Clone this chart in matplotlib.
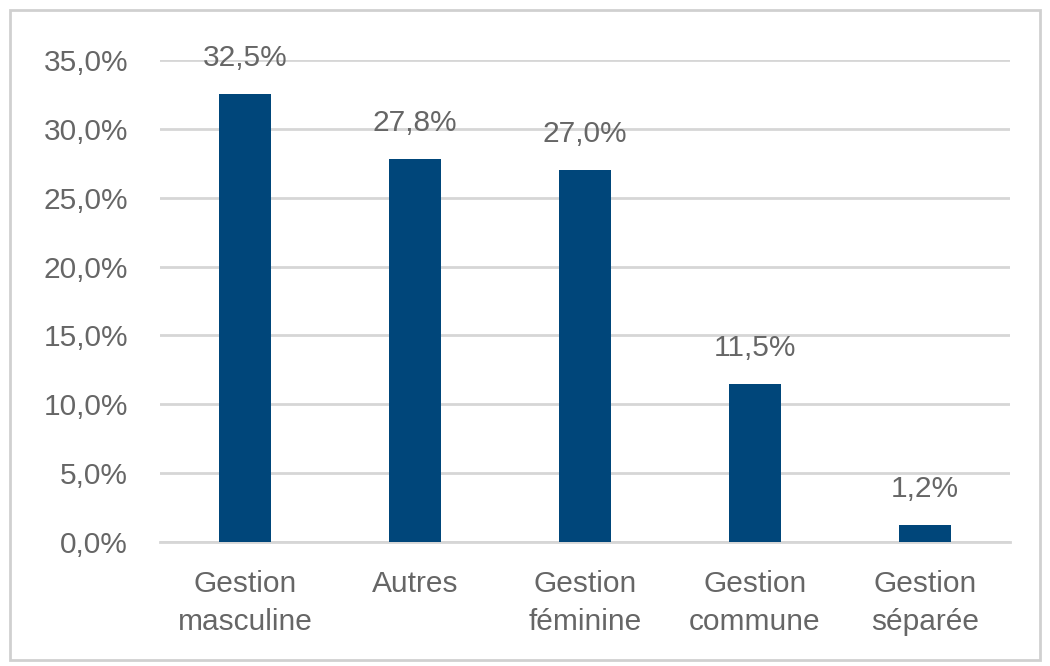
import matplotlib.pyplot as plt
from matplotlib.patches import Rectangle

# data
categories = ["Gestion\nmasculine", "Autres", "Gestion\nféminine", "Gestion\ncommune", "Gestion\nséparée"]
values = [32.5, 27.8, 27.0, 11.5, 1.2]
yticks = [0, 5, 10, 15, 20, 25, 30, 35]

bar_color = "#00467a"
text_color = "#666666"
grid_color = "#d6d6d6"

plt.rcParams['font.family'] = ['Liberation Sans', 'DejaVu Sans']

fig = plt.figure(figsize=(10.5, 6.66), dpi=100)
ax = fig.add_axes([160 / 1050, 124 / 666, 850 / 1050, 482 / 666])

x = list(range(len(categories)))
ax.bar(x, values, width=0.31, color=bar_color, zorder=3)

def fmt(v):
    return f"{v:.1f}".replace(".", ",") + "%"

for xi, v in zip(x, values):
    ax.annotate(fmt(v), (xi, v), xytext=(0, 26), textcoords="offset points",
                ha="center", va="center", fontsize=21.5, color=text_color)

ax.set_xlim(-0.5, len(categories) - 0.5)
ax.set_ylim(0, 35)
ax.set_yticks(yticks)
ax.set_yticklabels([fmt(t) for t in yticks])
ax.set_xticks(x)
ax.set_xticklabels(categories, linespacing=1.45)

ax.tick_params(axis="y", length=0, pad=23, labelsize=21.5, labelcolor=text_color)
ax.tick_params(axis="x", length=0, pad=20, labelsize=21.5, labelcolor=text_color)

ax.grid(axis="y", color=grid_color, linewidth=2, zorder=0)
ax.set_axisbelow(True)
for s in ["top", "right", "left"]:
    ax.spines[s].set_visible(False)
ax.spines["bottom"].set_color(grid_color)
ax.spines["bottom"].set_linewidth(2)

# outer frame
fig.patches.append(Rectangle((10 / 1050, 6 / 666), 1030 / 1050, 650 / 666,
                             transform=fig.transFigure, fill=False,
                             edgecolor="#d0d0d0", linewidth=2))

fig.savefig("out.png", dpi=100)
